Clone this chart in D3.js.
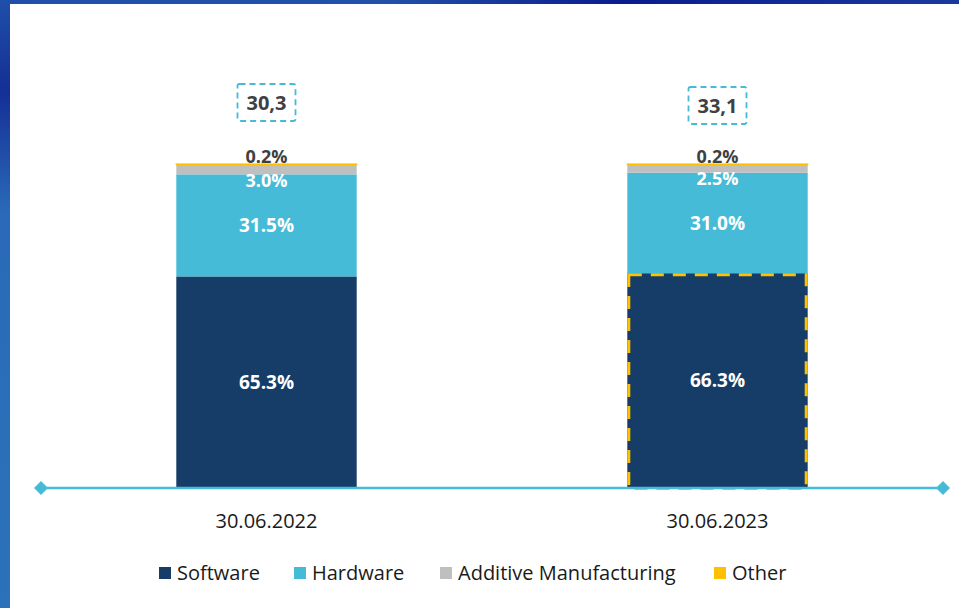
<!DOCTYPE html>
<html>
<head>
<meta charset="utf-8">
<script src="https://cdn.jsdelivr.net/npm/d3@7"></script>
<style>
  body { margin: 0; background: #fff; }
  svg { display: block; }
</style>
</head>
<body>
<svg id="chart" width="959" height="608"></svg>
<script>
// data
var categories = ["30.06.2022", "30.06.2023"];
var seriesNames = ["Software", "Hardware", "Additive Manufacturing", "Other"];
var software = [65.3, 66.3];
var hardware = [31.5, 31.0];
var additive = [3.0, 2.5];
var other = [0.2, 0.2];
var totals = ["30,3", "33,1"];

var colors = ["#153d67", "#45bbd8", "#bfbfbf", "#ffc000"];
var values = [software, hardware, additive, other];

var svg = d3.select("#chart");

// frame like the slide background
var defs = svg.append("defs");
var gLeft = defs.append("linearGradient").attr("id", "gl").attr("x1", 0).attr("y1", 0).attr("x2", 0).attr("y2", 1);
gLeft.append("stop").attr("offset", "0").attr("stop-color", "#1f4fa8");
gLeft.append("stop").attr("offset", "0.15").attr("stop-color", "#142f96");
gLeft.append("stop").attr("offset", "0.35").attr("stop-color", "#2a6ab8");
gLeft.append("stop").attr("offset", "1").attr("stop-color", "#2b72b9");
var gTop = defs.append("linearGradient").attr("id", "gt").attr("x1", 0).attr("y1", 0).attr("x2", 1).attr("y2", 0);
gTop.append("stop").attr("offset", "0").attr("stop-color", "#1f4fa8");
gTop.append("stop").attr("offset", "0.4").attr("stop-color", "#2152a8");
gTop.append("stop").attr("offset", "0.65").attr("stop-color", "#0a1c8c");
gTop.append("stop").attr("offset", "1").attr("stop-color", "#1a3a9e");

svg.append("rect").attr("x", 0).attr("y", 0).attr("width", 959).attr("height", 4).attr("fill", "url(#gt)");
svg.append("rect").attr("x", 0).attr("y", 0).attr("width", 10).attr("height", 608).attr("fill", "url(#gl)");

var x = d3.scaleBand()
    .domain(categories)
    .range([41, 943])
    .paddingInner(0.6)
    .paddingOuter(0.3);

var y = d3.scaleLinear()
    .domain([0, 100])
    .range([488, 164]);

var stackData = categories.map(function (c, i) {
    var row = { cat: c };
    seriesNames.forEach(function (s, j) { row[s] = values[j][i]; });
    return row;
});
var stacked = d3.stack().keys(seriesNames)(stackData);

var layers = svg.append("g").selectAll("g")
    .data(stacked)
    .join("g")
    .attr("fill", function (d, i) { return colors[i]; })
    // thin "Other" slice gets a stroke so it stays visible
    .attr("stroke", function (d, i) { return i === 3 ? colors[i] : "none"; })
    .attr("stroke-width", 1.2);

layers.selectAll("rect")
    .data(function (d) { return d; })
    .join("rect")
    .attr("x", function (d) { return x(d.data.cat); })
    .attr("width", x.bandwidth())
    .attr("y", function (d) { return y(d[1]); })
    .attr("height", function (d) { return y(d[0]) - y(d[1]); });

// highlight on 2023 software
var hl = stacked[0][1];
svg.append("rect")
    .attr("x", x(categories[1]) + 1.5)
    .attr("y", y(hl[1]) + 1.5)
    .attr("width", x.bandwidth() - 3)
    .attr("height", y(hl[0]) - y(hl[1]) - 1)
    .attr("fill", "none")
    .attr("stroke", "#ffc000")
    .attr("stroke-width", 3)
    .attr("stroke-dasharray", "13,9");

// axis line with diamonds
var axisY = y(0);
svg.append("line")
    .attr("x1", 41).attr("x2", 943)
    .attr("y1", axisY).attr("y2", axisY)
    .attr("stroke", "#45bbd8")
    .attr("stroke-width", 2.5);
[41, 943].forEach(function (px) {
    svg.append("path")
        .attr("d", "M" + (px - 7) + "," + axisY + "L" + px + "," + (axisY - 7) + "L" + (px + 7) + "," + axisY + "L" + px + "," + (axisY + 7) + "Z")
        .attr("fill", "#45bbd8");
});

var labelFont = "'Open Sans', 'DejaVu Sans', sans-serif";

// segment labels
function fmt(v) { return v.toFixed(1) + "%"; }
stacked.forEach(function (layer, j) {
    layer.forEach(function (d, i) {
        var cx = x(d.data.cat) + x.bandwidth() / 2;
        var cy, fill, size = 19;
        if (j === 3) {
            cy = y(d[1]) - 7;
            fill = "#404040";
            size = 18;
        } else if (j === 2) {
            cy = y(d[0]) + 6;
            fill = "#ffffff";
            size = 18;
        } else {
            cy = (y(d[0]) + y(d[1])) / 2;
            fill = "#ffffff";
        }
        svg.append("text")
            .attr("x", cx)
            .attr("y", cy)
            .attr("dy", "0.35em")
            .attr("text-anchor", "middle")
            .attr("font-family", labelFont)
            .attr("font-weight", "bold")
            .attr("font-size", size)
            .attr("fill", fill)
            .text(fmt(d[1] - d[0]));
    });
});

// totals in dashed boxes
var totalY = [103, 106];
categories.forEach(function (c, i) {
    var cx = x(c) + x.bandwidth() / 2;
    var g = svg.append("g");
    g.append("rect")
        .attr("x", cx - 29)
        .attr("y", totalY[i] - 19)
        .attr("width", 58)
        .attr("height", 37)
        .attr("rx", 2)
        .attr("fill", "none")
        .attr("stroke", "#45bbd8")
        .attr("stroke-width", 1.8)
        .attr("stroke-dasharray", "6,4");
    g.append("text")
        .attr("x", cx)
        .attr("y", totalY[i])
        .attr("dy", "0.35em")
        .attr("text-anchor", "middle")
        .attr("font-family", labelFont)
        .attr("font-weight", "bold")
        .attr("font-size", 20)
        .attr("fill", "#404040")
        .text(totals[i]);
});

// category labels
svg.append("g").selectAll("text")
    .data(categories)
    .join("text")
    .attr("x", function (d) { return x(d) + x.bandwidth() / 2; })
    .attr("y", 521)
    .attr("dy", "0.35em")
    .attr("text-anchor", "middle")
    .attr("font-family", "'Liberation Sans Narrow', 'Open Sans', sans-serif")
    .attr("font-size", 20)
    .attr("fill", "#1a1a1a")
    .text(function (d) { return d; });

// legend
var legendX = [159, 294, 440, 714];
var legend = svg.append("g").selectAll("g")
    .data(seriesNames)
    .join("g")
    .attr("transform", function (d, i) { return "translate(" + legendX[i] + ",573)"; });
legend.append("rect")
    .attr("x", 0).attr("y", -6)
    .attr("width", 12).attr("height", 12)
    .attr("fill", function (d, i) { return colors[i]; });
legend.append("text")
    .attr("x", 18)
    .attr("y", 0)
    .attr("dy", "0.35em")
    .attr("font-family", "'Liberation Sans Narrow', 'Open Sans', sans-serif")
    .attr("font-size", 20)
    .attr("fill", "#1a1a1a")
    .text(function (d) { return d; });
</script>
</body>
</html>
